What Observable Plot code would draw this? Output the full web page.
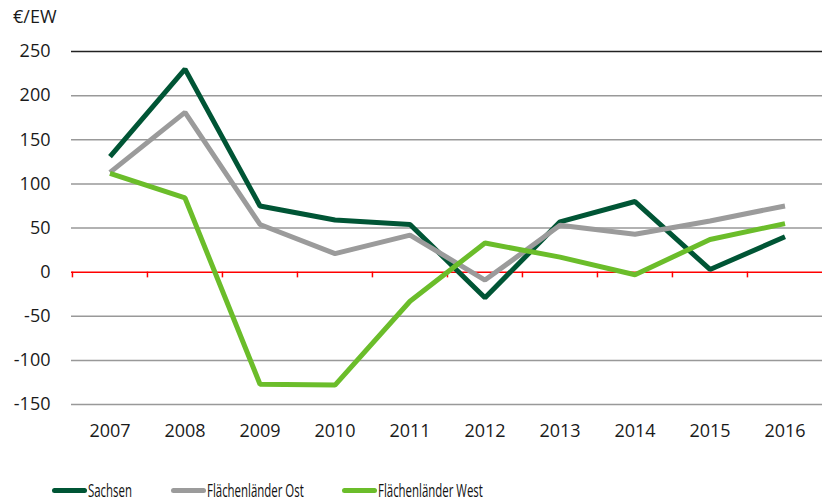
<!DOCTYPE html>
<html>
<head>
<meta charset="utf-8">
<script src="https://cdn.jsdelivr.net/npm/d3@7"></script>
<script src="https://cdn.jsdelivr.net/npm/@observablehq/plot@0.6"></script>
<style>
  body { margin: 0; background: #fff; }
  #wrap { position: relative; width: 822px; height: 501px; overflow: hidden; font-family: "Open Sans", sans-serif; color: #1a1a1a; }
  #title { position: absolute; left: 13px; top: 4px; font-size: 18px; }
  #chart { position: absolute; left: 0; top: 0; }
  .leg { position: absolute; top: 478px; height: 24px; }
  .sw { position: absolute; top: 10px; width: 35px; height: 5px; border-radius: 3px; }
  .lt { position: absolute; left: 36px; top: 0; font-size: 18px; white-space: nowrap; transform: scaleX(0.635); transform-origin: left center; line-height: 24px; color: #111; }
</style>
</head>
<body>
<div id="wrap">
  <div id="chart"></div>
  <div id="title">€/EW</div>
  <div id="legend"></div>
</div>
<script>
const years = ["2007","2008","2009","2010","2011","2012","2013","2014","2015","2016"];
const seriesNames = ["Sachsen", "Flächenländer Ost", "Flächenländer West"];
const sachsen = [131, 230, 75, 59, 54, -29, 57, 80, 3, 40];
const ost = [113, 181, 54, 21, 42, -9, 53, 43, 58, 75];
const west = [112, 84, -127, -128, -33, 33, 17, -3, 37, 55];
const yTicks = [-150, -100, -50, 0, 50, 100, 150, 200, 250];
const colors = ["#005535", "#9b9b9b", "#6bbd2a"];

const seriesValues = [sachsen, ost, west];
const data = [];
seriesNames.forEach((s, i) => years.forEach((yr, j) => data.push({series: s, year: yr, value: seriesValues[i][j]})));

const W = 822, H = 465, mL = 71, mR = 0;
const bw = (W - mL - mR) / years.length;

const chart = Plot.plot({
  width: W, height: H,
  marginLeft: mL, marginRight: mR, marginTop: 51, marginBottom: 61,
  style: { fontFamily: "Open Sans, sans-serif", fontSize: "18px", color: "#1a1a1a", background: "#fff" },
  x: { type: "band", domain: years, padding: 0, label: null },
  y: { domain: [-150, 250], label: null },
  color: { domain: seriesNames, range: colors },
  marks: [
    Plot.ruleY(yTicks.filter(d => d !== 0 && d !== 250), { stroke: "#999", strokeWidth: 1.5 }),
    Plot.ruleY([250], { stroke: "#222", strokeWidth: 1.5 }),
    Plot.ruleY([0], { stroke: "#ff0000", strokeWidth: 1.5 }),
    Plot.ruleX(years, { x: d => d, y1: 0, y2: -6.5, dx: -bw / 2, stroke: "#ff0000", strokeWidth: 1.5 }),
    Plot.axisY({ ticks: yTicks, tickSize: 0, tickPadding: 21, fontSize: 18, tickFormat: d => d < 0 ? "-" + Math.abs(d) : String(d) }),
    Plot.axisX({ tickSize: 0, tickPadding: 20, fontSize: 18 }),
    Plot.line(data, { x: "year", y: "value", z: "series", stroke: "series", strokeWidth: 5, strokeLinejoin: "miter", strokeLinecap: "butt" })
  ]
});
document.getElementById("chart").appendChild(chart);

const legendPos = [52, 171, 342];
const legend = document.getElementById("legend");
seriesNames.forEach((s, i) => {
  const item = document.createElement("div");
  item.className = "leg";
  item.style.left = legendPos[i] + "px";
  item.innerHTML = `<div class="sw" style="background:${colors[i]}"></div><div class="lt">${s}</div>`;
  legend.appendChild(item);
});
</script>
</body>
</html>
